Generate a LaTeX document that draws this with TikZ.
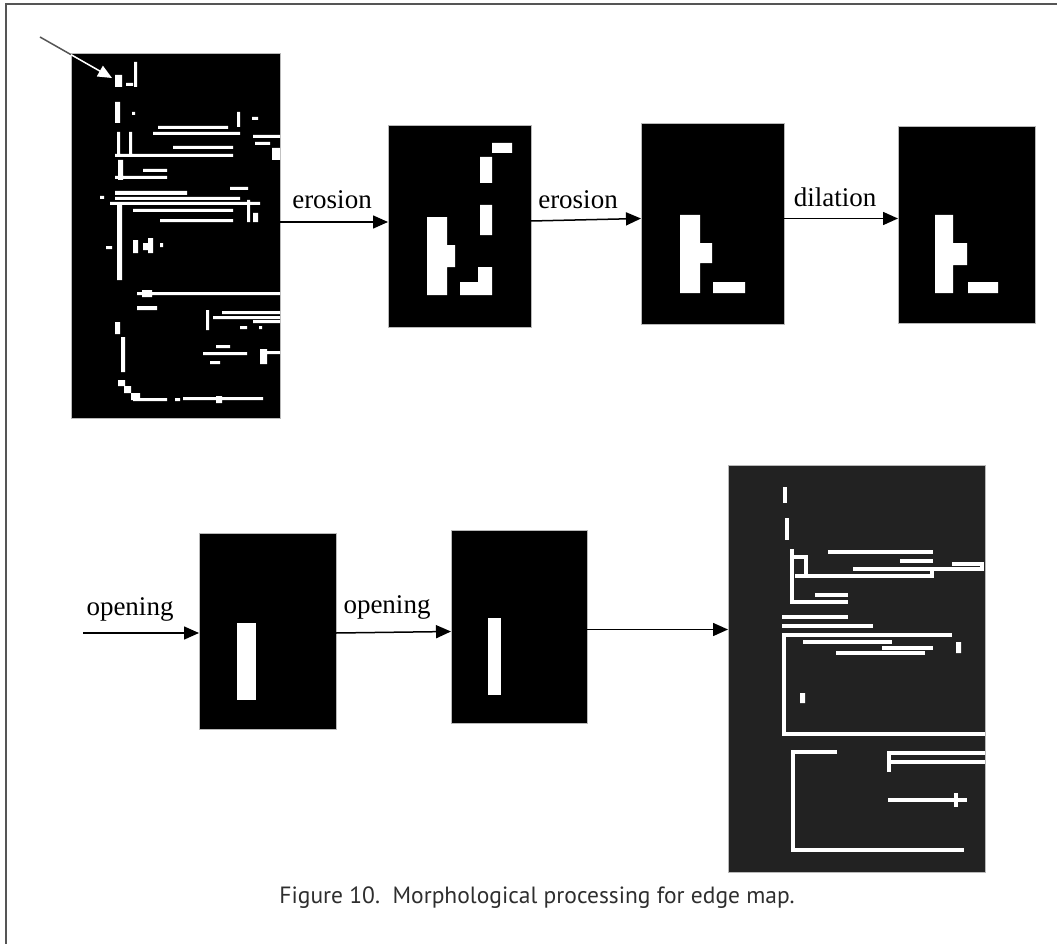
\documentclass[tikz,border=0pt]{standalone}
\usepackage{fontspec}
\setmainfont{Liberation Serif}
\newfontfamily\capfont{PT Sans}
\usetikzlibrary{positioning,arrows.meta,calc}
\definecolor{ink}{HTML}{000000}
\definecolor{framegray}{HTML}{555555}
\definecolor{slate}{HTML}{222222}
\definecolor{captext}{HTML}{2E2E2E}

\begin{document}
\begin{tikzpicture}[
      x=1pt, y=-1pt,
      panel/.style={draw=gray!55, line width=0.6pt, fill=ink,
                    inner sep=0pt, outer sep=0pt},
      flow/.style={-{Triangle[length=15pt,width=13pt]}, line width=1.5pt, color=ink},
      lbl/.style={anchor=base, inner sep=0pt, font=\fontsize{27}{30}\selectfont},
      gline/.style={white, line width=4pt},
    ]
      \useasboundingbox (0,0) rectangle (1057,944);
      \draw[framegray, line width=2pt] (6,944) -- (6,4) -- (1057,4);

      % top row
      \node[panel, minimum width=209pt, minimum height=365pt] (A) at (175.5,235.5) {};
      \node[panel, minimum width=143pt, minimum height=202pt] (B) at (459.5,226) {};
      \node[panel, minimum width=143pt, minimum height=201pt] (C) at (712.5,223.5) {};
      \node[panel, minimum width=137pt, minimum height=197pt] (D) at (966.5,224.5) {};

      % bottom row
      \node[panel, minimum width=137pt, minimum height=196pt] (E) at (267.5,631) {};
      \node[panel, minimum width=136pt, minimum height=193pt] (F) at (519,626.5) {};
      \node[panel, fill=slate, minimum width=257pt, minimum height=407pt] (G) at (856.5,668.5) {};

      % edge map
      \fill[white] (115,75) rectangle (122,87) (134,62) rectangle (137,87) (126,83) rectangle (133,86)
        (115,102) rectangle (120,123) (132,112) rectangle (135,115) (237,112) rectangle (240,127)
        (252,117) rectangle (258,120) (158,126) rectangle (228,129) (153,132) rectangle (240,135)
        (173,146) rectangle (233,149) (115,154) rectangle (233,157) (117,132) rectangle (120,157)
        (129,132) rectangle (132,157) (253,135) rectangle (280,138) (255,142) rectangle (270,145)
        (272,148) rectangle (280,160) (118,160) rectangle (123,180) (115,176) rectangle (167,179)
        (143,169) rectangle (167,172) (230,187) rectangle (248,190) (115,191) rectangle (187,195)
        (115,197) rectangle (240,200) (110,202) rectangle (260,205) (117,203) rectangle (122,280)
        (133,209) rectangle (233,212) (160,219) rectangle (233,222) (247,200) rectangle (250,222)
        (253,213) rectangle (258,222) (133,240) rectangle (138,253) (143,243) rectangle (150,250)
        (148,238) rectangle (153,253) (160,243) rectangle (163,247) (106,246) rectangle (112,249)
        (118,248) rectangle (122,260) (100,196) rectangle (104,199) (137,292) rectangle (280,295)
        (142,290) rectangle (152,297) (137,306) rectangle (157,310) (206,310) rectangle (209,330)
        (222,311) rectangle (280,314) (213,316) rectangle (280,319) (253,320) rectangle (280,323)
        (240,326) rectangle (247,329) (259,326) rectangle (262,329) (115,322) rectangle (120,334)
        (121,337) rectangle (125,372) (203,352) rectangle (247,355) (216,345) rectangle (230,348)
        (210,361) rectangle (220,364) (260,349) rectangle (267,364) (267,351) rectangle (280,354)
        (118,380) rectangle (125,386) (124,386) rectangle (131,393) (131,393) rectangle (140,400)
        (133,398) rectangle (167,401) (175,398) rectangle (180,401) (183,397) rectangle (263,400)
        (216,396) rectangle (222,403);

      % pointer into the edge map
      \coordinate (ptr) at (40,37);
      \coordinate (ptrtip) at (112,78);
      \draw[white, line width=1.5pt, -{Triangle[length=14pt,width=12pt]}] (ptr) -- (ptrtip);
      \draw[framegray, line width=1.5pt] (ptr) -- ($(ptr)!0.43!(ptrtip)$);

      % eroded / dilated shapes
      \fill[white] (427,217) rectangle (447,295) (447,245) rectangle (455,267)
        (478,267) rectangle (492,295) (460,282) rectangle (492,295)
        (480,205) rectangle (492,235) (480,157) rectangle (492,183) (492,143) rectangle (512,153);
      \fill[white] (680,215) rectangle (700,293) (700,243) rectangle (712,263) (713,282) rectangle (745,293);
      \fill[white] (935,215) rectangle (953,293) (953,243) rectangle (967,265) (968,282) rectangle (998,293);
      \fill[white] (237,623) rectangle (256,700);
      \fill[white] (488,618) rectangle (501,695);

      % cleaned edge map
      \draw[gline] (784.5,487) -- (784.5,503) (786.5,518) -- (786.5,540)
        (792,549) -- (792,602) -- (848,602) (792,557) -- (806,557) -- (806,577)
        (795,576) -- (932,576) -- (932,569) (853,569) -- (982,569) -- (982,564) -- (952,564)
        (828,552) -- (933,552) (900,561) -- (933,561) (815,595) -- (848,595)
        (782,617) -- (848,617) (782,626) -- (873,626)
        (952,635) -- (784,635) -- (784,734) -- (985,734)
        (803,642) -- (892,642) (882,648) -- (933,648) (836,653) -- (925,653)
        (837,752) -- (793,752) -- (793,850) -- (964,850)
        (889,772) -- (889,753) -- (985,753) (889,762) -- (985,762)
        (888,800) -- (967,800) (956,793) -- (956,807);
      \fill[white] (956,642) rectangle (961,653) (800,693) rectangle (805,703);

      % connectors
      \coordinate (start) at (83,633);
      \draw[flow] ([yshift=4pt]B.west -| A.east) -- ([yshift=4pt]B.west);
      \draw[flow] ([yshift=5pt]B.east) -- ([yshift=5pt]C.west);
      \draw[flow] ([yshift=5pt]C.east) -- ([yshift=6pt]D.west);
      \draw[flow] (start) -- (start -| E.west);
      \draw[flow] ([yshift=-2pt]E.east) -- ([yshift=-5pt]F.west);
      \draw[flow] ([yshift=-3pt]F.east) -- ([yshift=-3pt]F.east -| G.west);

      \node[lbl] (ero1) at (332,208) {erosion};
      \node[lbl] (ero2) at (578,208) {erosion};
      \node[lbl] (dil) at (835,207) {dilation};
      \node[lbl] (open1) at (130,615) {opening};
      \node[lbl] (open2) at (387,613) {opening};

      \node[font=\capfont\fontsize{23.5}{27}\selectfont, text=captext] (cap) at (537,898)
        {Figure 10.\ \ Morphological processing for edge map.};
\end{tikzpicture}
\end{document}
